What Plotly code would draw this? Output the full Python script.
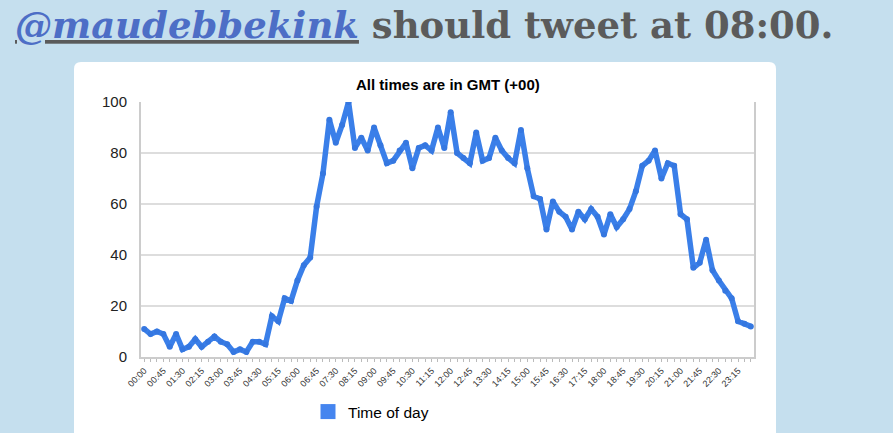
import plotly.graph_objects as go

# ---- data ----
times = [f"{h:02d}:{m:02d}" for h in range(24) for m in (0, 15, 30, 45)]
values = [11, 9, 10, 9, 4, 9, 3, 4, 7, 4, 6, 8, 6, 5, 2, 3, 2, 6, 6, 5,
          16, 14, 23, 22, 30, 36, 39, 59, 72, 93, 84, 91, 100, 82, 86, 81, 90, 83, 76, 77,
          81, 84, 74, 82, 83, 81, 90, 82, 96, 80, 78, 76, 88, 77, 78, 86, 81, 78, 76, 89,
          74, 63, 62, 50, 61, 57, 55, 50, 57, 54, 58, 55, 48, 56, 51, 54, 58, 65, 75, 77,
          81, 70, 76, 75, 56, 54, 35, 37, 46, 34, 30, 26, 23, 14, 13, 12]
tick_labels = [t if i % 3 == 0 else "" for i, t in enumerate(times)]
y_ticks = [0, 20, 40, 60, 80, 100]
series_name = "Time of day"
page_title = "<i><u><span style='color:#4d6ec6'>@maudebbekink</span></u></i> should tweet at 08:00."
chart_title = "All times are in GMT (+00)"

W, H = 893, 433
L, R, T, B = 141, 754, 102, 357
pw, ph = R - L, B - T

def px(x):
    return (x - L) / pw

def py(y):
    return (B - y) / ph

LINE = "#3a7fe9"

fig = go.Figure()
fig.add_trace(go.Scatter(
    x=times, y=values, mode="lines+markers",
    line=dict(color=LINE, width=5.5),
    marker=dict(color="#3577e0", size=6),
    showlegend=False, hoverinfo="x+y"))
fig.add_trace(go.Scatter(
    x=[None], y=[None], mode="markers", name=series_name,
    marker=dict(symbol="square", size=15, color="#4585ef"),
    showlegend=True))

# white rounded card
x0, x1 = px(74), px(776)
y0, y1 = py(62), py(445)
rx, ry = 7 / pw, 7 / ph
path = (f"M {x0+rx},{y0} L {x1-rx},{y0} Q {x1},{y0} {x1},{y0-ry} "
        f"L {x1},{y1} L {x0},{y1} L {x0},{y0-ry} Q {x0},{y0} {x0+rx},{y0} Z")
fig.add_shape(type="path", path=path, xref="paper", yref="paper",
              fillcolor="white", line=dict(width=0), layer="below")

fig.add_annotation(text=page_title, xref="paper", yref="paper",
                   x=px(13), y=py(25), xanchor="left", yanchor="middle",
                   showarrow=False,
                   font=dict(family="DejaVu Serif", size=37, color="#5b5b5b", weight="bold"))

fig.add_annotation(text="<b>" + chart_title + "</b>", xref="paper", yref="paper",
                   x=0.5, y=py(84), xanchor="center", yanchor="middle",
                   showarrow=False,
                   font=dict(family="Liberation Sans", size=15, color="black"))

fig.update_layout(
    width=W, height=H,
    margin=dict(l=L, r=W - R, t=T, b=H - B, pad=0, autoexpand=False),
    paper_bgcolor="#c5dfee",
    plot_bgcolor="white",
    font=dict(family="Liberation Sans", color="#222"),
    legend=dict(x=px(308), y=py(412), xanchor="left", yanchor="middle",
                orientation="h", bgcolor="rgba(0,0,0,0)",
                font=dict(family="Liberation Sans", size=15.5, color="black"),
                itemwidth=30, tracegroupgap=0),
)
fig.update_xaxes(
    type="category", categoryorder="array", categoryarray=times,
    range=[-0.5, len(times) - 0.5],
    tickmode="array", tickvals=times, ticktext=tick_labels,
    tickangle=-45, tickfont=dict(size=9, color="#333"),
    ticks="outside", ticklen=3, tickcolor="#bbb", tickwidth=1,
    showgrid=False, showline=True, linecolor="#ccc", linewidth=2,
    mirror=False, zeroline=False, fixedrange=True, automargin=False)
fig.update_yaxes(
    range=[0, 100], tickvals=y_ticks,
    tickfont=dict(size=15, color="#222"),
    showgrid=True, gridcolor="#dddddd", gridwidth=2,
    showline=True, linecolor="#ccc", linewidth=2, mirror=True,
    zeroline=False, ticks="", ticklabelstandoff=9, fixedrange=True, automargin=False)

fig.write_html("out.html", config={"displayModeBar": False},
               post_script="document.body.style.margin='0';document.body.style.background='#c5dfee';")
